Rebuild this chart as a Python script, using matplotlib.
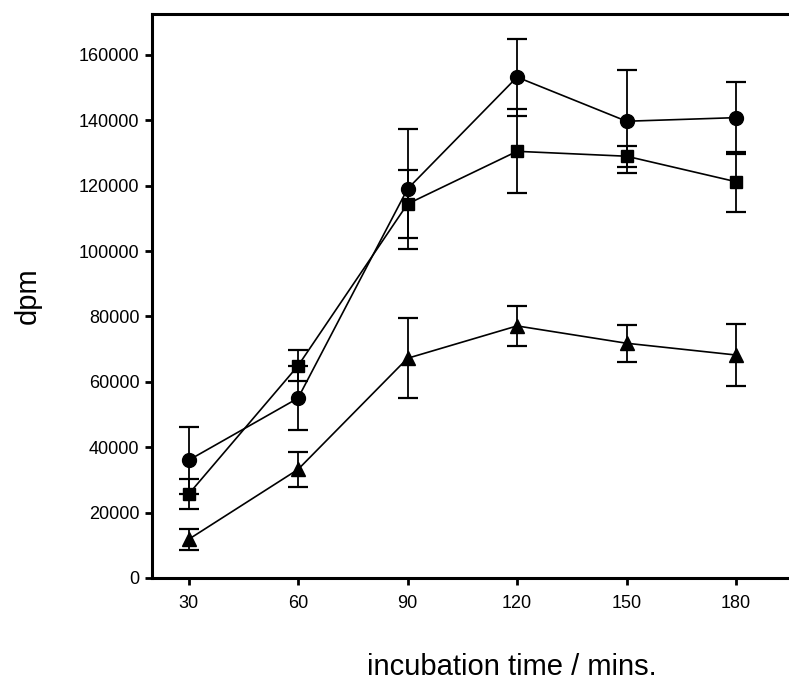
import matplotlib
matplotlib.use('Agg')
import matplotlib.pyplot as plt

plt.rcParams['font.family'] = ['Liberation Sans', 'DejaVu Sans']

time_mins = [30, 60, 90, 120, 150, 180]

circle_dpm = [36000, 55000, 119000, 153200, 139700, 140800]
circle_err = [10200, 9700, 18300, 11800, 15800, 11000]

square_dpm = [25600, 64900, 114400, 130500, 129000, 121200]
square_err = [4600, 4700, 10300, 12800, 3200, 9200]

triangle_dpm = [11800, 33200, 67200, 77100, 71800, 68200]
triangle_err = [3200, 5400, 12200, 6000, 5600, 9400]

y_ticks = [0, 20000, 40000, 60000, 80000, 100000, 120000, 140000, 160000]

fig = plt.figure(figsize=(7.89, 6.88), dpi=100)
ax = fig.add_axes([152 / 789, 1 - 578 / 688, 1 - 152 / 789, (578 - 14) / 688])

series = [(circle_dpm, circle_err, 'o', 10),
          (square_dpm, square_err, 's', 8.5),
          (triangle_dpm, triangle_err, '^', 10)]
for vals, errs, mk, ms in series:
    ax.errorbar(time_mins, vals, yerr=errs, fmt='-', marker=mk, color='black',
                markersize=ms, linewidth=1.2, elinewidth=1.3, capsize=7,
                capthick=1.6)

ax.set_xlim(20, 194.5)
ax.set_ylim(0, 172500)
ax.set_xticks(time_mins)
ax.set_yticks(y_ticks)
ax.set_yticklabels([str(v) for v in y_ticks])

for side in ['left', 'bottom', 'top']:
    ax.spines[side].set_linewidth(2.2)
ax.spines['right'].set_visible(False)
ax.tick_params(direction='out', length=5, width=2, labelsize=13)
ax.tick_params(axis='x', pad=7)
ax.tick_params(axis='y', pad=4)

ax.set_ylabel('dpm', fontsize=21)
ax.yaxis.set_label_coords(-0.173, 0.5)
ax.set_xlabel('incubation time / mins.', fontsize=21)
ax.xaxis.set_label_coords((512 - 152) / (789 - 152), -0.133)

fig.savefig('out.png', dpi=100)
